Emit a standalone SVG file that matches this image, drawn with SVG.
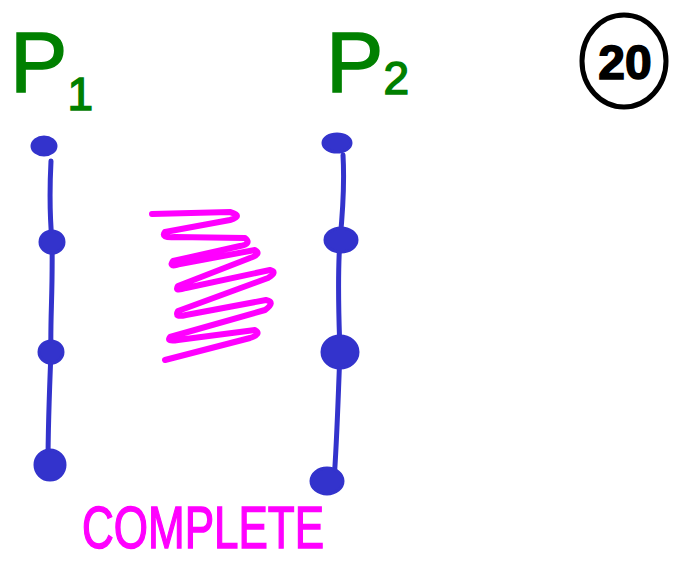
<svg xmlns="http://www.w3.org/2000/svg" width="696" height="566" viewBox="0 0 696 566">
<style>
.lbl{font-family:"Liberation Sans",Arial,sans-serif;fill:#008000;stroke:#008000;stroke-width:1.5}
.line{fill:none;stroke:#3333cc;stroke-width:5;stroke-linecap:round;stroke-linejoin:round}
.dot{fill:#3333cc;stroke:#3333cc;stroke-width:3}
.zz{fill:none;stroke:#ff00ff;stroke-width:6;stroke-linecap:round;stroke-linejoin:round}
.cmp{font-family:"Liberation Sans",Arial,sans-serif;fill:#ff00ff;stroke:#ff00ff;stroke-width:1.5}
</style>
<rect width="696" height="566" fill="#ffffff"/>
<g id="label-p1"><text class="lbl" x="10" y="92" font-size="86">P<tspan font-size="46" dy="18">1</tspan></text></g>
<g id="label-p2"><text class="lbl" x="326" y="92" font-size="86">P<tspan font-size="46" dy="2">2</tspan></text></g>
<g id="badge-20">
<ellipse cx="624" cy="61" rx="42" ry="46" fill="none" stroke="#000" stroke-width="5"/>
<text x="625" y="79" text-anchor="middle" font-family="Liberation Sans,Arial,sans-serif" font-size="48" font-weight="bold" fill="#000" stroke="#000" stroke-width="1.5">20</text>
</g>
<g id="connectors">
<path class="line" d="M51,161 C49,200 51,230 52,241 C53,290 50,320 51,352 C49,400 48,430 48,465"/>
<path class="line" d="M343,155 C345,190 342,220 340,240 C337,280 339,320 340,352 C338,400 337,440 334,481"/>
</g>
<g id="p1-nodes">
<g id="p1-n1"><ellipse class="dot" cx="44" cy="146" rx="12" ry="9"/></g>
<g id="p1-n2"><ellipse class="dot" cx="52" cy="242" rx="12" ry="11"/></g>
<g id="p1-n3"><ellipse class="dot" cx="51" cy="352" rx="12" ry="11"/></g>
<g id="p1-n4"><ellipse class="dot" cx="50" cy="465" rx="15" ry="15"/></g>
</g>
<g id="p2-nodes">
<g id="p2-n1"><ellipse class="dot" cx="337" cy="143" rx="14" ry="9"/></g>
<g id="p2-n2"><ellipse class="dot" cx="341" cy="240" rx="16" ry="12"/></g>
<g id="p2-n3"><ellipse class="dot" cx="340" cy="352" rx="18" ry="16"/></g>
<g id="p2-n4"><ellipse class="dot" cx="327" cy="481" rx="16" ry="13"/></g>
</g>
<g id="scribble">
<path class="zz" d="M152,214 L230,212 Q244,216 230,220 L165,232 Q160,238 175,237 L245,238 Q252,244 240,246 L173,261 Q168,268 180,264 L255,250 Q262,254 250,258 L178,286 Q174,292 186,288 L270,270 Q278,272 268,278 L178,311 Q174,318 186,315 L266,300 Q276,302 265,310 L170,337 Q166,342 178,340 L255,330 Q262,334 250,338 L165,360"/>
</g>
<g id="label-complete"><text class="cmp" x="82" y="548" font-size="60" textLength="242" lengthAdjust="spacingAndGlyphs">COMPLETE</text></g>
</svg>
